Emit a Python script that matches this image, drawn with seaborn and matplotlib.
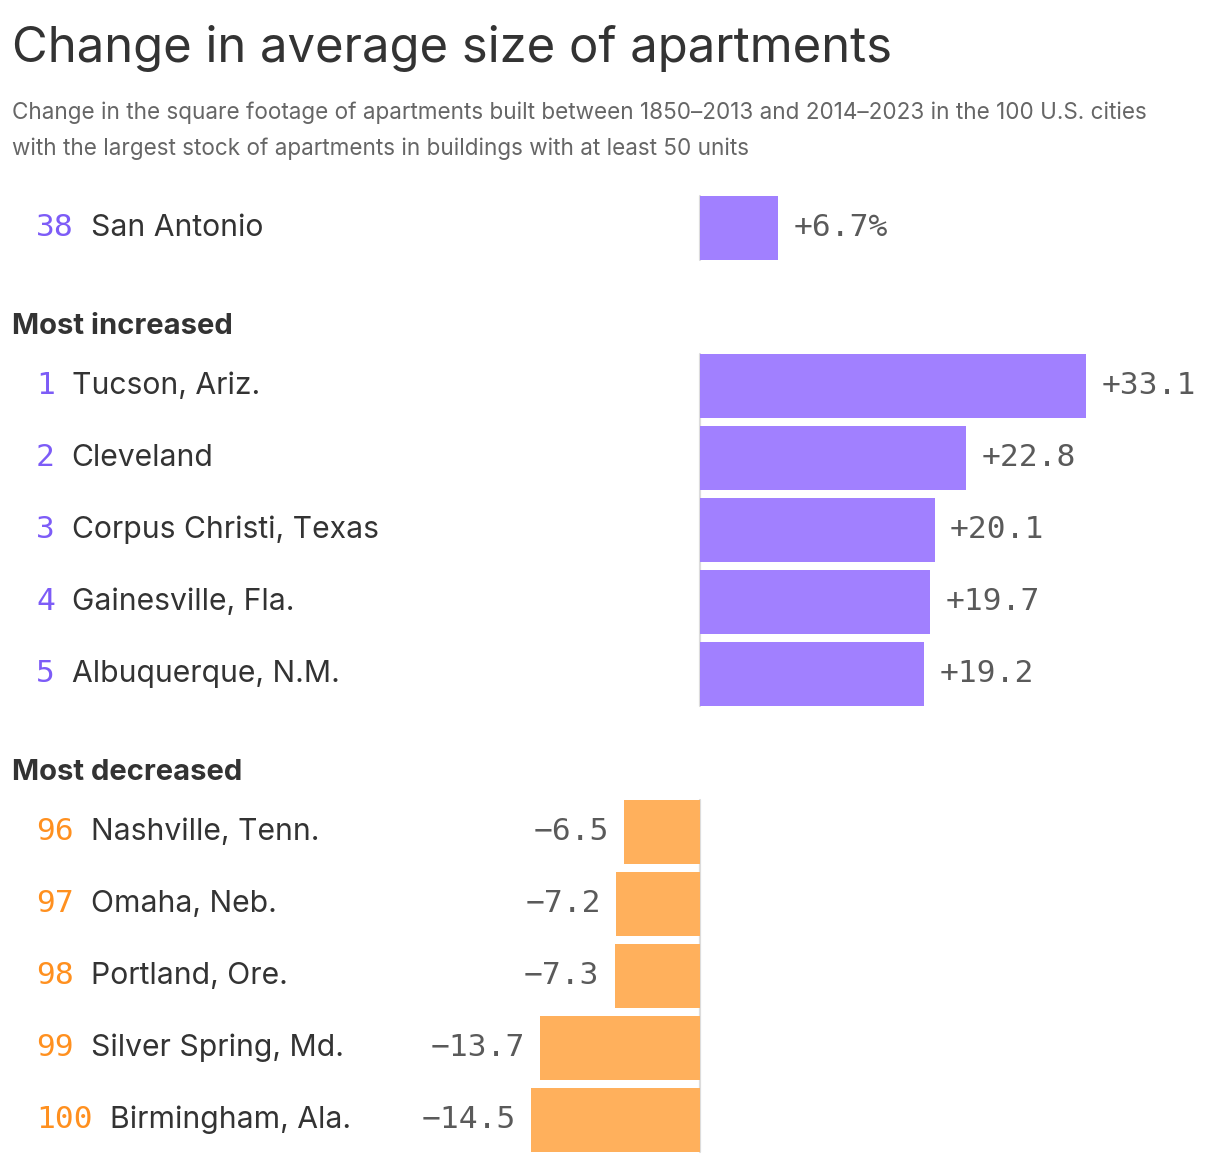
import numpy as np
import pandas as pd
import matplotlib.pyplot as plt
import matplotlib.transforms as mtransforms
import seaborn as sns

sns.set_theme(style="white")
plt.rcParams["font.family"] = ["Inter", "DejaVu Sans"]

# data
ref_rank = ["38"]
ref_city = ["San Antonio"]
ref_change = [6.7]

up_rank = ["1", "2", "3", "4", "5"]
up_city = ["Tucson, Ariz.", "Cleveland", "Corpus Christi, Texas",
           "Gainesville, Fla.", "Albuquerque, N.M."]
up_change = [33.1, 22.8, 20.1, 19.7, 19.2]

down_rank = ["96", "97", "98", "99", "100"]
down_city = ["Nashville, Tenn.", "Omaha, Neb.", "Portland, Ore.",
             "Silver Spring, Md.", "Birmingham, Ala."]
down_change = [-6.5, -7.2, -7.3, -13.7, -14.5]

PURPLE_BAR = "#a180ff"
PURPLE_TXT = "#7d5cf7"
ORANGE_BAR = "#ffb05c"
ORANGE_TXT = "#ff901f"
DARK = "#333333"
MONO = ["DejaVu Sans Mono"]

W, H = 1220, 1162
fig = plt.figure(figsize=(W / 100, H / 100), dpi=100)

PX_PER_UNIT = 11.67
ZERO_X = 700
XLIM = (-ZERO_X / PX_PER_UNIT, (W - ZERO_X) / PX_PER_UNIT)


def fmt(v, pct=False):
    s = f"{abs(v):.1f}"
    s = ("+" if v > 0 else "\u2212") + s
    return s + ("%" if pct else "")


def panel(top, bottom, ranks, cities, values, bar_color, rank_color, width, pct=False):
    ax = fig.add_axes([0, 1 - bottom / H, 1, (bottom - top) / H])
    df = pd.DataFrame({"city": cities, "change": values})
    sns.barplot(data=df, x="change", y="city", orient="h", color=bar_color,
                saturation=1, width=width, linewidth=0, zorder=2, ax=ax)
    n = len(cities)
    ax.set_xlim(*XLIM)
    ax.set_ylim(n - 0.5, -0.5)
    ax.axis("off")
    pad = (0.5 - width / 2) / n
    ax.axvline(0, ymin=pad, ymax=1 - pad, color="#dcdcdc", lw=1.6, zorder=1)

    labels = [fmt(v, pct) for v in values]
    ax.bar_label(ax.containers[0], labels=labels, padding=11, fontsize=22.5,
                 color="#5a5a5a", family=MONO)

    trans = mtransforms.blended_transform_factory(fig.transFigure, ax.transData)
    for i, (r, c) in enumerate(zip(ranks, cities)):
        ax.text(36 / W, i, r, transform=trans, ha="left", va="center",
                fontsize=22.5, color=rank_color, family=MONO)
        x_name = 36 + len(r) * 19.5 + 16
        ax.text(x_name / W, i, c, transform=trans, ha="left", va="center",
                fontsize=21.7, color=DARK)
    return ax


panel(188, 268, ref_rank, ref_city, ref_change, PURPLE_BAR, PURPLE_TXT, 0.8, pct=True)
panel(350, 710, up_rank, up_city, up_change, PURPLE_BAR, PURPLE_TXT, 64 / 72)
panel(796, 1156, down_rank, down_city, down_change, ORANGE_BAR, ORANGE_TXT, 64 / 72)

fig.text(12 / W, 1 - 62 / H, "Change in average size of apartments",
         fontsize=35.3, color=DARK, va="baseline")
fig.text(12 / W, 1 - 119 / H,
         "Change in the square footage of apartments built between 1850\u20132013 "
         "and 2014\u20132023 in the 100 U.S. cities",
         fontsize=16.2, color="#666666", va="baseline")
fig.text(12 / W, 1 - 155 / H,
         "with the largest stock of apartments in buildings with at least 50 units",
         fontsize=16.2, color="#666666", va="baseline")

fig.text(12 / W, 1 - 327 / H, "Most increased", fontsize=21, weight="bold",
         color=DARK, va="center")
fig.text(12 / W, 1 - 772 / H, "Most decreased", fontsize=21, weight="bold",
         color=DARK, va="center")

fig.savefig("out.png", dpi=100, facecolor="white")
